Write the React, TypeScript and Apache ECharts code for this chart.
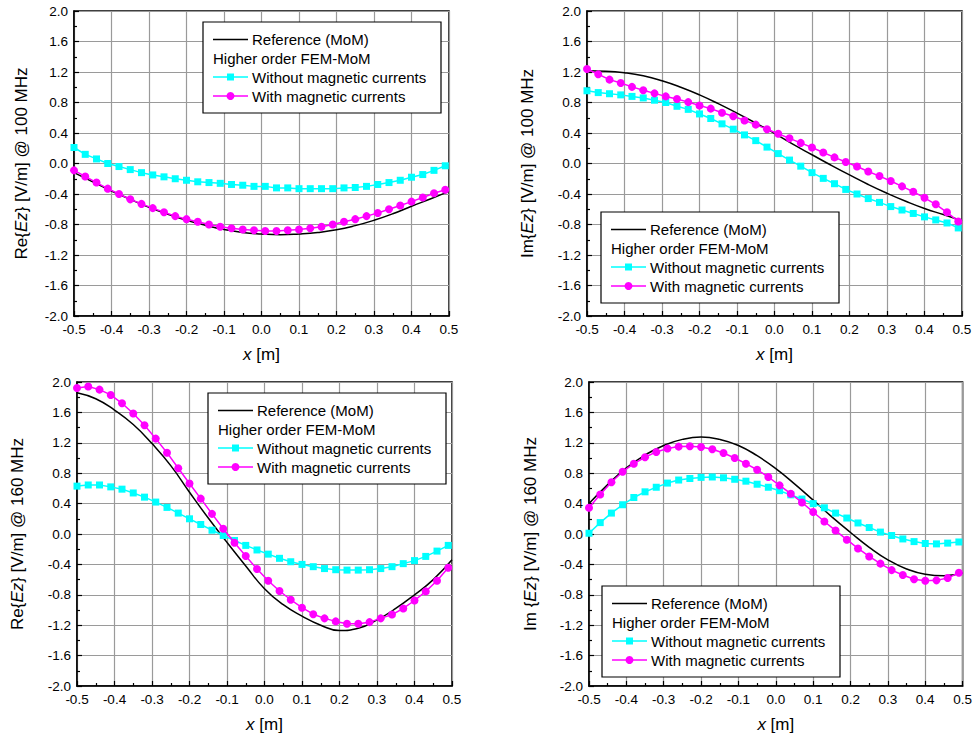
import React, { useEffect, useRef } from "react";
import * as echarts from "echarts";

// ---------- data ----------
const X_FEM = [-0.5, -0.47, -0.44, -0.41, -0.38, -0.35, -0.32, -0.29, -0.26, -0.23, -0.2, -0.17, -0.14, -0.11, -0.08, -0.05, -0.02, 0.01, 0.04, 0.07, 0.1, 0.13, 0.16, 0.19, 0.22, 0.25, 0.28, 0.31, 0.34, 0.37, 0.4, 0.43, 0.46, 0.49];
const X_REF = [-0.5, -0.45, -0.4, -0.35, -0.3, -0.25, -0.2, -0.15, -0.1, -0.05, 0, 0.05, 0.1, 0.15, 0.2, 0.25, 0.3, 0.35, 0.4, 0.45, 0.5];

// Re{Ez} @ 100 MHz
const REF_RE100 = [-0.12, -0.24, -0.36, -0.47, -0.575, -0.665, -0.745, -0.81, -0.865, -0.905, -0.925, -0.935, -0.925, -0.905, -0.87, -0.815, -0.745, -0.66, -0.56, -0.465, -0.365];
const NOMAG_RE100 = [0.21, 0.12, 0.06, 0.0, -0.04, -0.08, -0.12, -0.15, -0.175, -0.2, -0.22, -0.24, -0.25, -0.26, -0.275, -0.285, -0.3, -0.3, -0.32, -0.32, -0.33, -0.33, -0.33, -0.33, -0.32, -0.315, -0.3, -0.275, -0.25, -0.22, -0.18, -0.145, -0.09, -0.03];
const MAG_RE100 = [-0.09, -0.17, -0.25, -0.33, -0.4, -0.47, -0.53, -0.585, -0.64, -0.69, -0.73, -0.765, -0.8, -0.83, -0.85, -0.865, -0.875, -0.885, -0.885, -0.875, -0.865, -0.85, -0.83, -0.8, -0.765, -0.73, -0.69, -0.65, -0.6, -0.55, -0.5, -0.445, -0.39, -0.345];

// Im{Ez} @ 100 MHz
const REF_IM100 = [1.215, 1.21, 1.19, 1.15, 1.085, 1.0, 0.9, 0.785, 0.66, 0.53, 0.395, 0.25, 0.115, -0.02, -0.15, -0.275, -0.39, -0.495, -0.59, -0.67, -0.75];
const NOMAG_IM100 = [0.954, 0.93, 0.915, 0.9, 0.88, 0.86, 0.83, 0.8, 0.75, 0.71, 0.65, 0.59, 0.52, 0.45, 0.375, 0.3, 0.215, 0.13, 0.045, -0.035, -0.12, -0.195, -0.265, -0.34, -0.4, -0.46, -0.51, -0.565, -0.61, -0.655, -0.7, -0.74, -0.78, -0.845];
const MAG_IM100 = [1.24, 1.17, 1.1, 1.055, 1.005, 0.96, 0.92, 0.88, 0.845, 0.805, 0.76, 0.72, 0.665, 0.62, 0.565, 0.51, 0.45, 0.39, 0.33, 0.27, 0.21, 0.145, 0.08, 0.02, -0.04, -0.105, -0.165, -0.23, -0.3, -0.37, -0.45, -0.535, -0.64, -0.76];

// Re{Ez} @ 160 MHz
const REF_RE160 = [1.86, 1.78, 1.63, 1.44, 1.19, 0.9, 0.55, 0.21, -0.11, -0.42, -0.72, -0.93, -1.08, -1.2, -1.27, -1.24, -1.13, -0.98, -0.8, -0.6, -0.34];
const NOMAG_RE160 = [0.63, 0.645, 0.645, 0.62, 0.59, 0.54, 0.485, 0.42, 0.35, 0.275, 0.2, 0.125, 0.05, -0.02, -0.085, -0.15, -0.21, -0.265, -0.32, -0.365, -0.4, -0.43, -0.455, -0.47, -0.475, -0.475, -0.47, -0.455, -0.43, -0.39, -0.35, -0.295, -0.225, -0.15];
const MAG_RE160 = [1.92, 1.94, 1.9, 1.83, 1.72, 1.585, 1.43, 1.255, 1.07, 0.865, 0.665, 0.465, 0.265, 0.07, -0.115, -0.29, -0.46, -0.615, -0.75, -0.865, -0.97, -1.055, -1.11, -1.15, -1.18, -1.18, -1.16, -1.11, -1.06, -0.98, -0.875, -0.755, -0.615, -0.445];

// Im{Ez} @ 160 MHz
const REF_IM160 = [0.4, 0.65, 0.87, 1.04, 1.165, 1.245, 1.275, 1.245, 1.165, 1.03, 0.86, 0.66, 0.445, 0.225, 0.02, -0.175, -0.34, -0.46, -0.53, -0.55, -0.51];
const NOMAG_IM160 = [0.01, 0.15, 0.275, 0.385, 0.48, 0.555, 0.615, 0.67, 0.71, 0.73, 0.745, 0.75, 0.74, 0.72, 0.695, 0.655, 0.615, 0.57, 0.515, 0.46, 0.4, 0.345, 0.275, 0.21, 0.145, 0.085, 0.025, -0.02, -0.065, -0.1, -0.125, -0.13, -0.12, -0.105];
const MAG_IM160 = [0.345, 0.52, 0.68, 0.82, 0.925, 1.01, 1.08, 1.125, 1.15, 1.155, 1.145, 1.115, 1.065, 1.0, 0.925, 0.845, 0.75, 0.64, 0.53, 0.415, 0.29, 0.165, 0.045, -0.075, -0.19, -0.295, -0.39, -0.475, -0.54, -0.595, -0.615, -0.61, -0.58, -0.51];

const Y_NAMES = [
  "Re{{i|Ez}} [V/m] @ 100 MHz",
  "Im{{i|Ez}} [V/m] @ 100 MHz",
  "Re{{i|Ez}} [V/m] @ 160 MHz",
  "Im {{i|Ez}} [V/m] @ 160 MHz",
];
const X_NAME = "{i|x} [m]";
const LEGEND_LABELS = ["Reference (MoM)", "Higher order FEM-MoM", "Without magnetic currents", "With magnetic currents"];

const REF_SETS = [REF_RE100, REF_IM100, REF_RE160, REF_IM160];
const NOMAG_SETS = [NOMAG_RE100, NOMAG_IM100, NOMAG_RE160, NOMAG_IM160];
const MAG_SETS = [MAG_RE100, MAG_IM100, MAG_RE160, MAG_IM160];

// ---------- layout ----------
const FONT = 'Arial, "Liberation Sans", Helvetica, sans-serif';
const GRIDS = [
  { left: 74, top: 11, width: 375, height: 305 },
  { left: 587, top: 11, width: 375, height: 305 },
  { left: 77, top: 382, width: 375, height: 304 },
  { left: 589, top: 382, width: 375, height: 304 },
];
const Y_NAME_GAPS = [44, 51, 51, 50];
const LEGEND_POS = [
  [203, 22],
  [601, 212],
  [208, 393],
  [602, 586],
];
const CYAN = "#00ffff";
const MAGENTA = "#ff00ff";

const fmt = (v: number) => (Math.round(v * 10) / 10).toFixed(1);

function legendGroup(x: number, y: number) {
  const t = (tx: number, ty: number, text: string) => ({
    type: "text",
    x: tx,
    y: ty,
    z: 101,
    style: { text, fontSize: 15, fontFamily: FONT, fill: "#000", verticalAlign: "middle", align: "left" },
  });
  return {
    type: "group",
    x,
    y,
    z: 100,
    children: [
      { type: "rect", z: 100, shape: { x: 0, y: 0, width: 238, height: 91 }, style: { fill: "#fff", stroke: "#000", lineWidth: 1.2 } },
      { type: "line", z: 101, shape: { x1: 10, y1: 17.5, x2: 45, y2: 17.5 }, style: { stroke: "#000", lineWidth: 1.5 } },
      t(49, 17.5, LEGEND_LABELS[0]),
      t(10, 36.3, LEGEND_LABELS[1]),
      { type: "line", z: 101, shape: { x1: 10, y1: 55, x2: 45, y2: 55 }, style: { stroke: CYAN, lineWidth: 1.5 } },
      { type: "rect", z: 102, shape: { x: 24, y: 51.5, width: 7, height: 7 }, style: { fill: CYAN } },
      t(49, 55, LEGEND_LABELS[2]),
      { type: "line", z: 101, shape: { x1: 10, y1: 74, x2: 45, y2: 74 }, style: { stroke: MAGENTA, lineWidth: 1.5 } },
      { type: "circle", z: 102, shape: { cx: 27.5, cy: 74, r: 4 }, style: { fill: MAGENTA } },
      t(49, 74, LEGEND_LABELS[3]),
    ],
  };
}

function buildOption() {
  const grid = GRIDS.map((g) => ({ ...g, show: true, borderColor: "#000", borderWidth: 1.5, backgroundColor: "transparent" }));
  const common = {
    axisLine: { show: true, onZero: false, lineStyle: { color: "#000", width: 1.5 } },
    axisTick: { show: true, inside: true, length: 5, lineStyle: { color: "#000", width: 1.2 } },
    minorTick: { show: true, splitNumber: 2, length: 3, lineStyle: { color: "#000", width: 1.2 } },
    splitLine: { show: true, lineStyle: { color: "#9a9a9a", width: 1.2 } },
    minorSplitLine: { show: false },
  };
  const nameStyle = {
    fontSize: 17,
    fontFamily: FONT,
    color: "#000",
    rich: { i: { fontStyle: "italic", fontSize: 17, fontFamily: FONT, color: "#000" } },
  };
  const xAxis = GRIDS.map((_, i) => ({
    type: "value",
    gridIndex: i,
    min: -0.5,
    max: 0.5,
    interval: 0.1,
    ...common,
    axisLabel: { formatter: fmt, fontSize: 13.5, fontFamily: FONT, color: "#000", margin: 6 },
    name: X_NAME,
    nameLocation: "middle",
    nameGap: 30,
    nameTextStyle: nameStyle,
  }));
  const yAxis = GRIDS.map((_, i) => ({
    type: "value",
    gridIndex: i,
    min: -2,
    max: 2,
    interval: 0.4,
    ...common,
    axisLabel: { formatter: fmt, fontSize: 13.5, fontFamily: FONT, color: "#000", margin: 6 },
    name: Y_NAMES[i],
    nameLocation: "middle",
    nameRotate: 90,
    nameGap: Y_NAME_GAPS[i],
    nameTextStyle: nameStyle,
  }));
  const series: any[] = [];
  GRIDS.forEach((_, i) => {
    series.push({
      type: "line",
      name: LEGEND_LABELS[0],
      xAxisIndex: i,
      yAxisIndex: i,
      data: X_REF.map((x, j) => [x, REF_SETS[i][j]]),
      smooth: true,
      symbol: "none",
      lineStyle: { color: "#000", width: 1.5 },
      z: 2,
    });
    series.push({
      type: "line",
      name: LEGEND_LABELS[2],
      xAxisIndex: i,
      yAxisIndex: i,
      data: X_FEM.map((x, j) => [x, NOMAG_SETS[i][j]]),
      symbol: "rect",
      symbolSize: 7,
      itemStyle: { color: CYAN },
      lineStyle: { color: CYAN, width: 1.5 },
      z: 3,
    });
    series.push({
      type: "line",
      name: LEGEND_LABELS[3],
      xAxisIndex: i,
      yAxisIndex: i,
      data: X_FEM.map((x, j) => [x, MAG_SETS[i][j]]),
      symbol: "circle",
      symbolSize: 8,
      itemStyle: { color: MAGENTA },
      lineStyle: { color: MAGENTA, width: 1.5 },
      z: 4,
    });
  });
  return {
    animation: false,
    backgroundColor: "#fff",
    grid,
    xAxis,
    yAxis,
    series,
    graphic: LEGEND_POS.map(([x, y]) => legendGroup(x, y)),
  };
}

export default function App() {
  const ref = useRef<HTMLDivElement>(null);
  useEffect(() => {
    if (!ref.current) return;
    const chart = echarts.init(ref.current, undefined, { renderer: "svg" });
    chart.setOption(buildOption() as any);
    return () => chart.dispose();
  }, []);
  return (
    <div
      ref={ref}
      style={{ position: "fixed", left: 0, top: 0, width: 975, height: 738, background: "#fff" }}
    />
  );
}
